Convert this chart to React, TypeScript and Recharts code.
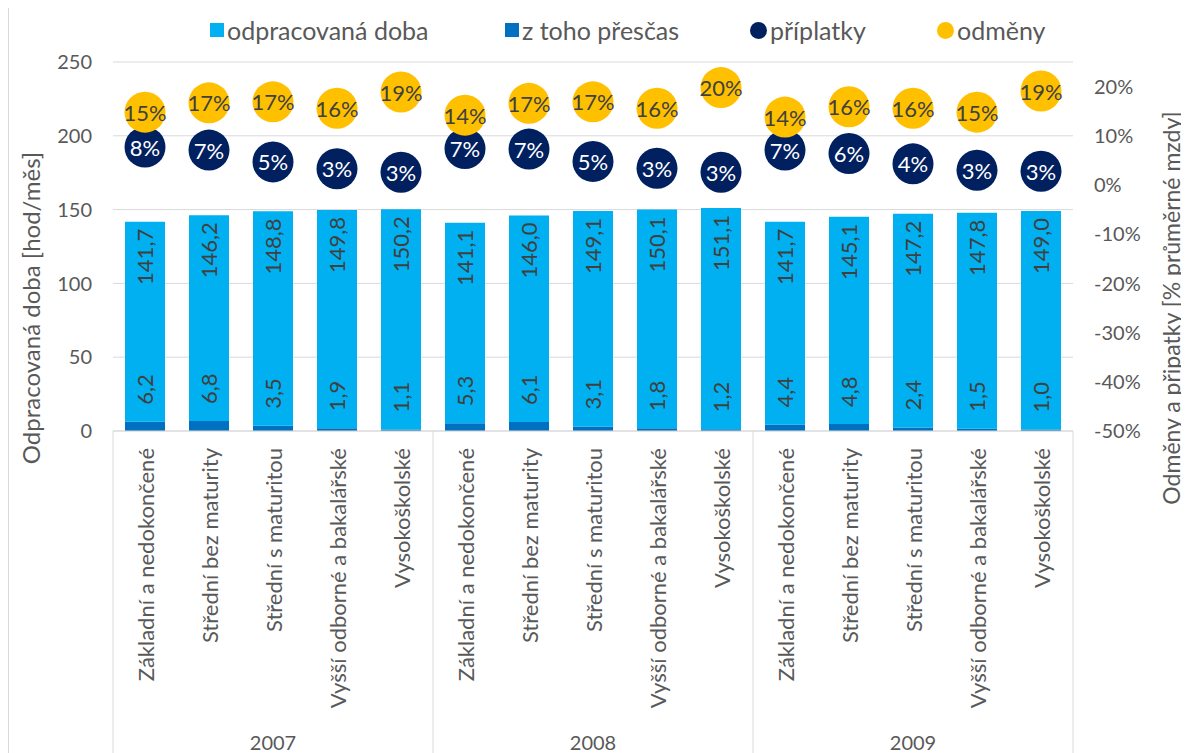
import React from "react";
import { ComposedChart, Bar, Scatter, XAxis, YAxis, CartesianGrid, LabelList } from "recharts";

const categories = [
  "Základní a nedokončené",
  "Střední bez maturity",
  "Střední s maturitou",
  "Vyšší odborné a bakalářské",
  "Vysokoškolské",
];
const years = ["2007", "2008", "2009"];

// hod/měs, total bar height
const odpracovanaDoba = [
  141.7, 146.2, 148.8, 149.8, 150.2,
  141.1, 146.0, 149.1, 150.1, 151.1,
  141.7, 145.1, 147.2, 147.8, 149.0,
];
// overtime part of the bar
const zTohoPrescas = [
  6.2, 6.8, 3.5, 1.9, 1.1,
  5.3, 6.1, 3.1, 1.8, 1.2,
  4.4, 4.8, 2.4, 1.5, 1.0,
];
// % průměrné mzdy
const priplatky = [
  7.7, 7.1, 4.7, 3.3, 2.6,
  7.4, 7.3, 4.8, 3.4, 2.6,
  7.1, 6.4, 4.3, 3.0, 2.8,
];
const odmeny = [
  14.8, 16.7, 16.9, 15.6, 18.9,
  14.2, 16.6, 16.9, 15.6, 19.8,
  13.8, 15.9, 15.6, 14.8, 19.1,
];

const leftTicks = [0, 50, 100, 150, 200, 250];
const rightTicks = [-50, -40, -30, -20, -10, 0, 10, 20];

const data = years.flatMap((year, yi) =>
  categories.map((cat, ci) => {
    const i = yi * categories.length + ci;
    return {
      id: `${year}|${cat}`,
      prescas: zTohoPrescas[i],
      zbytek: +(odpracovanaDoba[i] - zTohoPrescas[i]).toFixed(1),
      celkem: odpracovanaDoba[i],
      priplatky: priplatky[i],
      odmeny: odmeny[i],
    };
  })
);

const FONT = "Lato, 'Open Sans', sans-serif";
const GRAY = "#595959";
const LIGHT = "#00B0F0";
const DARK = "#0070C0";
const NAVY = "#002060";
const YELLOW = "#FFC000";
const GRID = "#D9D9D9";

const CHART_W = 1180;
const CHART_H = 760;
const MARGIN = { top: 55, left: 24, right: 36, bottom: 0 };
const AXIS_W = 80;
const PLOT_W = CHART_W - MARGIN.left - MARGIN.right - 2 * AXIS_W;
const BAND = PLOT_W / data.length;
const TITLE_Y = 301; // axis titles centre, chart coords

const fmt = (v: number) => v.toFixed(1).replace(".", ",");

function CategoryTick(props: any) {
  const { x, y, payload, index } = props;
  const [year, cat] = String(payload.value).split("|");
  const half = BAND / 2;
  const ty = y + 17;
  return (
    <g>
      <text
        x={x}
        y={ty}
        transform={`rotate(-90, ${x}, ${ty})`}
        textAnchor="end"
        dominantBaseline="central"
        fontSize={22}
        fill={GRAY}
        fontFamily={FONT}
      >
        {cat}
      </text>
      {index % categories.length === 0 && (
        <line x1={x - half} x2={x - half} y1={y} y2={y + 400} stroke={GRID} />
      )}
      {index === data.length - 1 && (
        <line x1={x + half} x2={x + half} y1={y} y2={y + 400} stroke={GRID} />
      )}
      {index % categories.length === 2 && (
        <text
          x={x}
          y={y + 311}
          textAnchor="middle"
          dominantBaseline="central"
          fontSize={20}
          fill={GRAY}
          fontFamily={FONT}
        >
          {year}
        </text>
      )}
    </g>
  );
}

function TotalLabel(props: any) {
  const { x, y, width, index } = props;
  const cx = x + width / 2;
  const ty = y + 7;
  return (
    <text
      x={cx}
      y={ty}
      transform={`rotate(-90, ${cx}, ${ty})`}
      textAnchor="end"
      dominantBaseline="central"
      fontSize={22}
      fill="#404040"
      fontFamily={FONT}
    >
      {fmt(data[index].celkem)}
    </text>
  );
}

function OvertimeLabel(props: any) {
  const { x, y, width, value } = props;
  const cx = x + width / 2;
  const ty = y - 17;
  return (
    <text
      x={cx}
      y={ty}
      transform={`rotate(-90, ${cx}, ${ty})`}
      textAnchor="start"
      dominantBaseline="central"
      fontSize={22}
      fill="#404040"
      fontFamily={FONT}
    >
      {fmt(value)}
    </text>
  );
}

const bubble = (key: "priplatky" | "odmeny", fill: string, textColor: string) =>
  function Bubble(props: any) {
    const { cx, cy, payload } = props;
    if (cx == null || cy == null) return null;
    return (
      <g>
        <circle cx={cx} cy={cy} r={20.5} fill={fill} />
        <text
          x={cx}
          y={cy}
          textAnchor="middle"
          dominantBaseline="central"
          fontSize={22}
          fill={textColor}
          fontFamily={FONT}
        >
          {`${Math.round(payload[key])}%`}
        </text>
      </g>
    );
  };

const legendItems = [
  { name: "odpracovaná doba", color: LIGHT, shape: "square", left: 201 },
  { name: "z toho přesčas", color: DARK, shape: "square", left: 496 },
  { name: "příplatky", color: NAVY, shape: "circle", left: 741 },
  { name: "odměny", color: YELLOW, shape: "circle", left: 928 },
];

function AxisTitle({ x, y, text, size }: { x: number; y: number; text: string; size: number }) {
  return (
    <text
      x={x}
      y={y}
      transform={`rotate(-90, ${x}, ${y})`}
      textAnchor="middle"
      dominantBaseline="central"
      fontSize={size}
      fill={GRAY}
      fontFamily={FONT}
    >
      {text}
    </text>
  );
}

export default function App() {
  return (
    <div
      style={{
        position: "relative",
        width: 1181,
        height: 747,
        marginTop: -2,
        boxSizing: "border-box",
        borderTop: `1px solid ${GRID}`,
        borderLeft: `1px solid ${GRID}`,
        overflow: "hidden",
        fontFamily: FONT,
      }}
    >
      {legendItems.map((it) => (
        <div
          key={it.name}
          style={{
            position: "absolute",
            top: 8,
            left: it.left,
            height: 30,
            display: "flex",
            alignItems: "center",
            gap: 3,
            fontSize: 25,
            color: GRAY,
            whiteSpace: "nowrap",
          }}
        >
          <span
            style={{
              display: "inline-block",
              width: it.shape === "square" ? 14 : 17,
              height: it.shape === "square" ? 14 : 17,
              borderRadius: it.shape === "square" ? 0 : "50%",
              background: it.color,
            }}
          />
          <span>{it.name}</span>
        </div>
      ))}
      <ComposedChart
        width={CHART_W}
        height={CHART_H}
        data={data}
        margin={MARGIN}
        style={{ overflow: "visible" }}
      >
        <CartesianGrid yAxisId="left" vertical={false} stroke={GRID} />
        <XAxis
          dataKey="id"
          interval={0}
          height={CHART_H - MARGIN.top - 369}
          tickSize={0}
          tickMargin={0}
          axisLine={{ stroke: GRID }}
          tickLine={false}
          tick={<CategoryTick />}
        />
        <YAxis
          yAxisId="left"
          width={AXIS_W}
          domain={[0, 250]}
          ticks={leftTicks}
          tickSize={0}
          tickMargin={21}
          axisLine={false}
          tickLine={false}
          tick={{ fontSize: 20, fill: GRAY, fontFamily: FONT }}
          label={(p: any) => (
            <AxisTitle x={p.viewBox.x - 3} y={TITLE_Y} size={24} text="Odpracovaná doba [hod/měs]" />
          )}
        />
        <YAxis
          yAxisId="right"
          orientation="right"
          width={AXIS_W}
          domain={[-50, 25]}
          ticks={rightTicks}
          tickFormatter={(v: number) => `${v}%`}
          tickSize={0}
          tickMargin={21}
          axisLine={false}
          tickLine={false}
          tick={{ fontSize: 20, fill: GRAY, fontFamily: FONT }}
          label={(p: any) => (
            <AxisTitle x={p.viewBox.x + 98} y={TITLE_Y} size={23} text="Odměny a připatky [% průměrné mzdy]" />
          )}
        />
        <Bar yAxisId="left" dataKey="prescas" stackId="a" fill={DARK} barSize={40} isAnimationActive={false}>
          <LabelList dataKey="prescas" content={<OvertimeLabel />} />
        </Bar>
        <Bar yAxisId="left" dataKey="zbytek" stackId="a" fill={LIGHT} barSize={40} isAnimationActive={false}>
          <LabelList dataKey="celkem" content={<TotalLabel />} />
        </Bar>
        <Scatter
          yAxisId="right"
          dataKey="priplatky"
          shape={bubble("priplatky", NAVY, "#FFFFFF")}
          isAnimationActive={false}
        />
        <Scatter
          yAxisId="right"
          dataKey="odmeny"
          shape={bubble("odmeny", YELLOW, "#404040")}
          isAnimationActive={false}
        />
      </ComposedChart>
    </div>
  );
}
